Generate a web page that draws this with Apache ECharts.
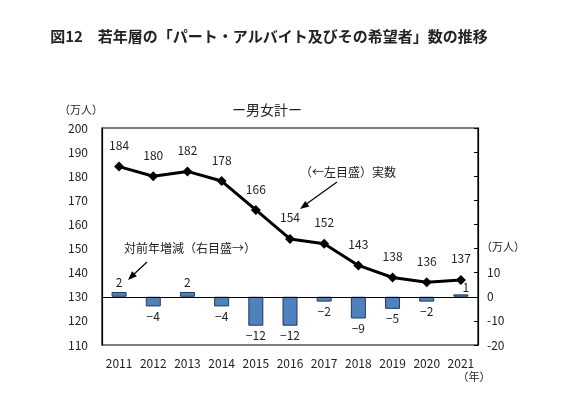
<!DOCTYPE html>
<html><head><meta charset="utf-8">
<script src="https://cdn.jsdelivr.net/npm/echarts@6/dist/echarts.min.js"></script>
<style>html,body{margin:0;padding:0;background:#fff}#c{width:580px;height:396px}</style>
</head><body><div id="c"></div>
<script>
const years = ['2011','2012','2013','2014','2015','2016','2017','2018','2019','2020','2021'];
const actual = [184,180,182,178,166,154,152,143,138,136,137];
const change = [2,-4,2,-4,-12,-12,-2,-9,-5,-2,1];
const rightTickLabels = ['-20','-10','0','10'];

const F = '"Noto Sans CJK JP", sans-serif';
const barData = change.map((v, i) => {
  const lab = {position: v < 0 ? 'bottom' : 'top'};
  if (i === change.length - 1) { lab.offset = [5, 3]; }
  return {value:v, label:lab};
});
const chart = echarts.init(document.getElementById('c'));
chart.setOption({
  animation:false,
  textStyle:{fontFamily:F},
  grid:{left:102,right:102,top:128,bottom:51,show:true,borderColor:'#000',borderWidth:1.2,backgroundColor:'transparent'},
  xAxis:{type:'category',data:years,boundaryGap:true,
    axisLine:{lineStyle:{color:'#000',width:1.2}},axisTick:{show:false},
    axisLabel:{color:'#222',fontSize:12,margin:12,fontFamily:F,interval:0}},
  yAxis:[
    {type:'value',min:110,max:200,interval:10,
     axisLine:{show:true,lineStyle:{color:'#000',width:1.2}},axisTick:{show:false},
     splitLine:{show:false},axisLabel:{color:'#222',fontSize:12,margin:14,fontFamily:F}},
    {type:'value',min:-20,max:70,interval:10,position:'right',
     axisLine:{show:true,lineStyle:{color:'#000',width:1.2}},
     axisTick:{show:true,inside:true,length:4,lineStyle:{color:'#000'}},
     splitLine:{show:false},
     axisLabel:{color:'#222',fontSize:12,margin:9,fontFamily:F,
       formatter:v=>rightTickLabels.indexOf(String(v))>=0?String(v):''}}
  ],
  series:[
    {type:'bar',yAxisIndex:1,data:barData,barWidth:15,z:2,
     itemStyle:{color:'#4F81BD',borderColor:'#1F3B5C',borderWidth:1},
     label:{show:true,fontSize:12,color:'#222',fontFamily:F,distance:4,
       formatter:p=>p.value<0?'−'+Math.abs(p.value):String(p.value)},
     markLine:{silent:true,symbol:'none',label:{show:false},
       lineStyle:{color:'#000',width:1.2,type:'solid'},data:[{yAxis:0}]}},
    {type:'line',yAxisIndex:0,data:actual,symbol:'diamond',symbolSize:10,z:3,
     lineStyle:{color:'#000',width:3},itemStyle:{color:'#000'},
     label:{show:true,position:'top',distance:10,fontSize:12,color:'#222',fontFamily:F}}
  ],
  graphic:[
    {type:'text',x:269,y:36,style:{text:'図12　若年層の「パート・アルバイト及びその希望者」数の推移',font:'bold 15px '+F,fill:'#222',align:'center',verticalAlign:'middle'}},
    {type:'text',x:267,y:110,style:{text:'ー男女計ー',font:'14px '+F,fill:'#222',align:'center',verticalAlign:'middle'}},
    {type:'text',x:81,y:110,style:{text:'（万人）',font:'11px '+F,fill:'#222',align:'center',verticalAlign:'middle'}},
    {type:'text',x:503,y:247,style:{text:'（万人）',font:'11px '+F,fill:'#222',align:'center',verticalAlign:'middle'}},
    {type:'text',x:474,y:377,style:{text:'（年）',font:'11px '+F,fill:'#222',align:'center',verticalAlign:'middle'}},
    {type:'text',x:300,y:172,style:{text:'（←左目盛）実数',font:'12px '+F,fill:'#222',verticalAlign:'middle'}},
    {type:'text',x:124,y:248,style:{text:'対前年増減（右目盛→）',font:'12px '+F,fill:'#222',verticalAlign:'middle'}},
    {type:'line',shape:{x1:337,y1:182,x2:305,y2:205},style:{stroke:'#000',lineWidth:1.2}},
    {type:'polygon',shape:{points:[[300,209],[309.4,206.5],[305.2,200.9]]},style:{fill:'#000'}},
    {type:'line',shape:{x1:147,y1:262,x2:132,y2:276},style:{stroke:'#000',lineWidth:1.2}},
    {type:'polygon',shape:{points:[[128,280],[136.9,276.3],[132.1,271.3]]},style:{fill:'#000'}}
  ]
});
</script></body></html>
